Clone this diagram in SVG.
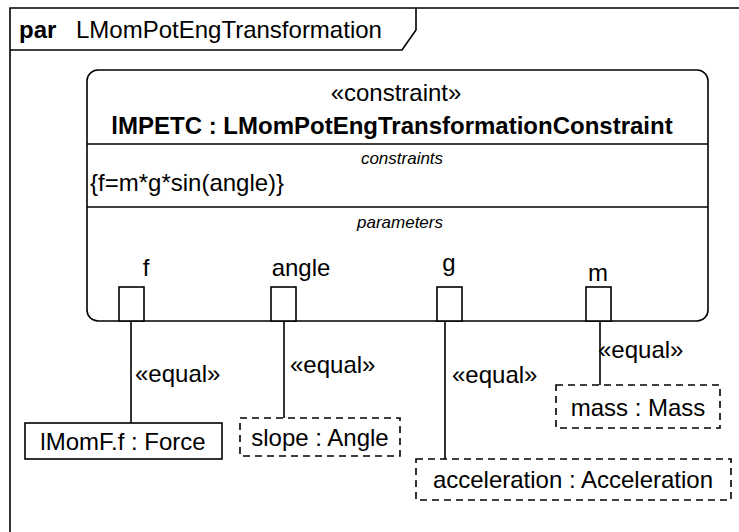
<svg xmlns="http://www.w3.org/2000/svg" width="739" height="532" viewBox="0 0 739 532">
<style>
text{font-family:"Liberation Sans",Arial,sans-serif;fill:#000;font-size:24px}
.b{font-weight:bold}
.i{font-style:italic;font-size:17px}
.c{text-anchor:middle}
.ln{fill:none;stroke:#000;stroke-width:1.6}
.box{fill:#fff;stroke:#000;stroke-width:1.6}
.dash{stroke-dasharray:7,5}
</style>
<rect width="739" height="532" fill="#fff"/>
<g id="frame">
<path class="ln" d="M10,540 V8 H745" stroke-width="2"/>
<path class="ln" d="M10,50 H402 L416,30 V8"/>
<text x="19" y="38"><tspan class="b">par</tspan><tspan x="76">LMomPotEngTransformation</tspan></text>
</g>
<g id="lMPETC">
<rect class="box" x="87" y="70" width="621" height="251" rx="11" stroke-width="2"/>
<line class="ln" x1="87" y1="144" x2="708" y2="144"/>
<line class="ln" x1="87" y1="207" x2="708" y2="207"/>
<text class="c" x="396" y="101">«constraint»</text>
<text class="c b" x="392" y="134">lMPETC : LMomPotEngTransformationConstraint</text>
<text class="c i" x="402" y="164">constraints</text>
<text x="90" y="191">{f=m*g*sin(angle)}</text>
<text class="c i" x="400" y="228">parameters</text>
</g>
<g id="port-f"><rect class="box" x="119" y="287" width="25" height="34"/><text class="c" x="146" y="276">f</text></g>
<g id="port-angle"><rect class="box" x="271" y="287" width="25" height="34"/><text class="c" x="301" y="276">angle</text></g>
<g id="port-g"><rect class="box" x="437" y="287" width="25" height="34"/><text class="c" x="449" y="271">g</text></g>
<g id="port-m"><rect class="box" x="586" y="287" width="25" height="34"/><text class="c" x="598" y="281">m</text></g>
<g id="connectors">
<line class="ln" x1="131" y1="321" x2="131" y2="423"/>
<line class="ln" x1="284" y1="321" x2="284" y2="418"/>
<line class="ln" x1="445" y1="321" x2="445" y2="459"/>
<line class="ln" x1="600" y1="321" x2="600" y2="385"/>
<text x="135" y="382">«equal»</text>
<text x="290" y="373">«equal»</text>
<text x="452" y="383">«equal»</text>
<text x="598" y="358">«equal»</text>
</g>
<g id="lMomF"><rect class="box" x="25" y="423" width="197" height="36"/><text class="c" x="123" y="450">lMomF.f : Force</text></g>
<g id="slope"><rect class="box dash" x="240" y="418" width="160" height="38"/><text class="c" x="320" y="446">slope : Angle</text></g>
<g id="acceleration"><rect class="box dash" x="416" y="459" width="315" height="41"/><text class="c" x="573" y="488">acceleration : Acceleration</text></g>
<g id="mass"><rect class="box dash" x="556" y="385" width="164" height="43"/><text class="c" x="638" y="416">mass : Mass</text></g>
</svg>
